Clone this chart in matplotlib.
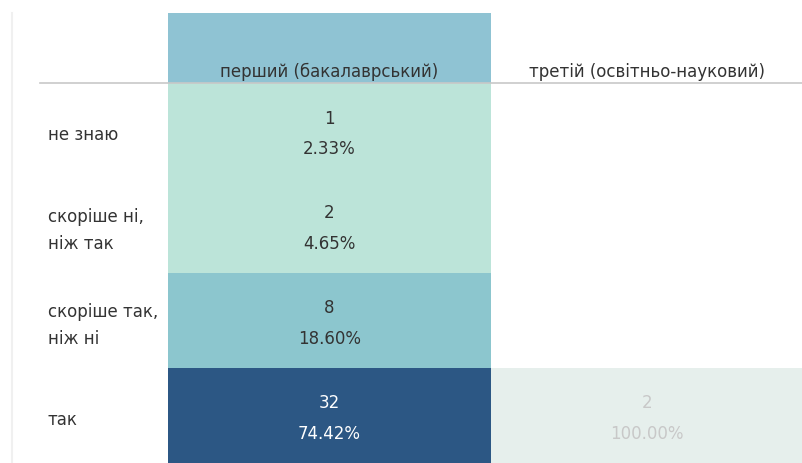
import matplotlib
matplotlib.use("Agg")
import matplotlib.pyplot as plt

# data
columns = ["перший (бакалаврський)", "третій (освітньо-науковий)"]
rows = ["не знаю", "скоріше ні,\nніж так", "скоріше так,\nніж ні", "так"]
counts = [[1, None], [2, None], [8, None], [32, 2]]
percents = [[2.33, None], [4.65, None], [18.60, None], [74.42, 100.00]]

# style
cell_colors = [["#bce4d9", None], ["#bce4d9", None], ["#8cc6ce", None], ["#2c5784", "#e6efec"]]
text_colors = [["#333333", None], ["#333333", None], ["#333333", None], ["#ffffff", "#c8c8c8"]]
header_color = "#8fc3d3"

plt.rcParams["font.family"] = ["DejaVu Sans"]
fig = plt.figure(figsize=(8.03, 4.64), dpi=100)
ax = fig.add_axes([0, 0, 1, 1])
ax.set_xlim(0, 803)
ax.set_ylim(464, 0)
ax.axis("off")

col_left = [168, 491]
col_w = [323, 312]
head_top, head_bot = 14, 84
row_h = 95

# header
ax.bar(col_left[0], head_bot - head_top, width=col_w[0], bottom=head_top,
       align="edge", color=header_color, linewidth=0)
for j, name in enumerate(columns):
    ax.text(col_left[j] + col_w[j] / 2, 72, name, ha="center", va="center",
            fontsize=12, color="#333333")

# cells
for i, r in enumerate(rows):
    top = head_bot + i * row_h
    cy = top + row_h / 2
    ax.text(48, cy + 4, r, ha="left", va="center", fontsize=12, color="#333333",
            linespacing=1.7)
    for j in range(len(columns)):
        if counts[i][j] is None:
            continue
        ax.bar(col_left[j], row_h, width=col_w[j], bottom=top, align="edge",
               color=cell_colors[i][j], linewidth=0)
        ax.text(col_left[j] + col_w[j] / 2, cy - 13, str(counts[i][j]),
                ha="center", va="center", fontsize=12, color=text_colors[i][j])
        ax.text(col_left[j] + col_w[j] / 2, cy + 18, f"{percents[i][j]:.2f}%",
                ha="center", va="center", fontsize=12, color=text_colors[i][j])

# lines
ax.plot([40, 803], [head_bot, head_bot], color="#c8c8c8", lw=1.2)
ax.plot([12, 12], [14, 464], color="#f0f0f0", lw=1.5)

fig.savefig("out.png", dpi=100)
